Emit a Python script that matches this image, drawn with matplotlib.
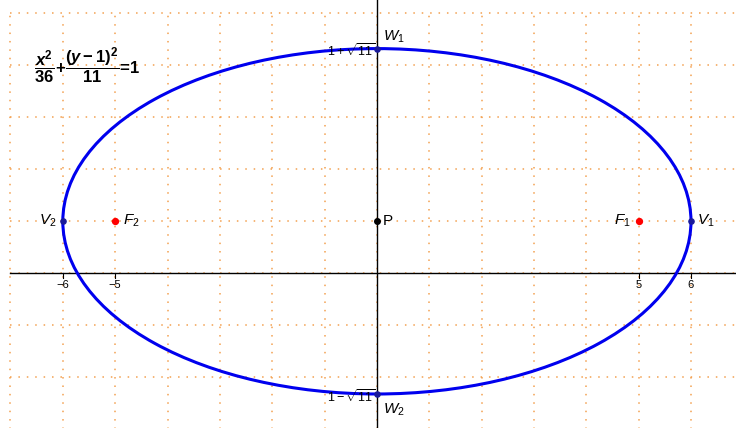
import numpy as np
import matplotlib
matplotlib.use("Agg")
from matplotlib import pyplot as plt
from matplotlib.patches import Ellipse

plt.rcParams['font.family'] = ['Liberation Sans', 'DejaVu Sans']
plt.rcParams['mathtext.fontset'] = 'custom'
plt.rcParams['mathtext.rm'] = 'Liberation Sans'
plt.rcParams['mathtext.it'] = 'Liberation Sans:italic'
plt.rcParams['mathtext.bf'] = 'Liberation Sans:bold'
plt.rcParams['mathtext.bfit'] = 'Liberation Sans:italic:bold'

# ellipse x^2/36 + (y-1)^2/11 = 1
center = (0, 1)
a = 6.0
b = np.sqrt(11)

vertices_x = [6, -6]
vertices_y = [1, 1]
covert_x = [0, 0]
covert_y = [1 + np.sqrt(11), 1 - np.sqrt(11)]
foci_x = [5, -5]
foci_y = [1, 1]

xticks = [-6, -5, 5, 6]
yticks = [1 + np.sqrt(11), 1 - np.sqrt(11)]
yticklabels = [r'$1+\sqrt{11}$', r'$1\u2212\sqrt{11}$'.replace('\\u2212', '\u2212')]

fig = plt.figure(figsize=(7.36, 4.28), dpi=100)
ax = fig.add_axes([0, 0, 1, 1])
ax.set_xlim(-7.2, 6.86)
ax.set_ylim(-2.97, 5.25)
ax.axis('off')

# grid
gc = '#f3a050'
for gx in range(-7, 7):
    ax.plot([gx, gx], [-3, 5], color=gc, lw=1.1, ls=(0, (1, 4.5)), zorder=0)
for gy in range(-2, 6):
    ax.plot([-7, 6.86], [gy, gy], color=gc, lw=1.1, ls=(0, (1, 4.5)), zorder=0)

# axes
ax.plot([-7, 6.86], [0, 0], color='black', lw=1, zorder=1)
ax.plot([0, 0], [-3, 5.25], color='black', lw=1, zorder=1)

for t in xticks:
    ax.plot([t, t], [-0.08, 0.0], color='black', lw=0.8, zorder=1)
    ax.text(t, -0.13, '\u2212%d' % abs(t) if t < 0 else str(t), ha='center', va='top', fontsize=8)
for t, lab in zip(yticks, yticklabels):
    ax.plot([0, 0.1], [t, t], color='black', lw=0.8, zorder=1)
    ax.text(-0.03, t - 0.04, lab, ha='right', va='center', fontsize=9, zorder=4)

# ellipse
ax.add_patch(Ellipse(center, 2 * a, 2 * b, fill=False, ec='#0000ee', lw=2.2, zorder=3))

ax.scatter(vertices_x, vertices_y, s=14, color='#1a1a9a', zorder=5)
ax.scatter(covert_x, covert_y, s=14, color='#1a1a9a', zorder=5)
ax.scatter(foci_x, foci_y, s=18, color='red', zorder=5)
ax.scatter([center[0]], [center[1]], s=16, color='black', zorder=5)

fs = 11
ax.text(6.12, 1, '$V_1$', ha='left', va='center', fontsize=fs)
ax.text(-6.12, 1, '$V_2$', ha='right', va='center', fontsize=fs)
ax.text(4.85, 1, '$F_1$', ha='right', va='center', fontsize=fs)
ax.text(-4.85, 1, '$F_2$', ha='left', va='center', fontsize=fs)
ax.text(0.12, 1, 'P', ha='left', va='center', fontsize=fs)
ax.text(0.12, covert_y[0] + 0.22, '$W_1$', ha='left', va='center', fontsize=fs)
ax.text(0.12, covert_y[1] - 0.3, '$W_2$', ha='left', va='center', fontsize=fs)

ax.text(-6.55, 3.98, r'$\mathbf{\dfrac{\mathbfit{x}^2}{36}\!+\!\dfrac{(\mathbfit{y}-1)^2}{11}\!=\!1}$',
        ha='left', va='center', fontsize=12)

fig.savefig('out.png', dpi=100)
